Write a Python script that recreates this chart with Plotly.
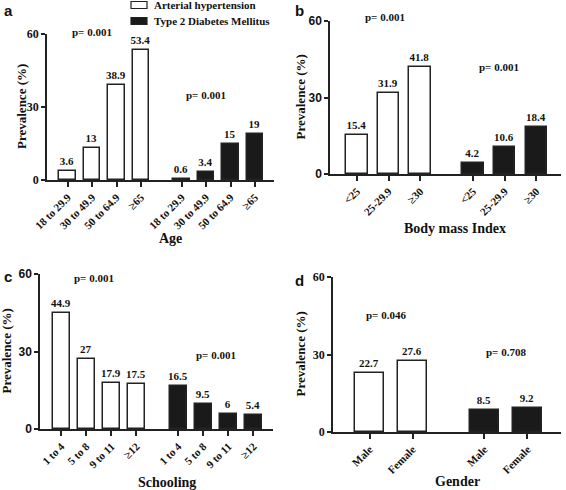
import plotly.graph_objects as go

# ---------------- data ----------------
age_cats = ["18 to 29.9", "30 to 49.9", "50 to 64.9", "≥65"]
age_ah = [3.6, 13, 38.9, 53.4]
age_dm = [0.6, 3.4, 15, 19]
age_p = ["p= 0.001", "p= 0.001"]

bmi_cats = ["<25", "25-29.9", "≥30"]
bmi_ah = [15.4, 31.9, 41.8]
bmi_dm = [4.2, 10.6, 18.4]
bmi_p = ["p= 0.001", "p= 0.001"]

school_cats = ["1 to 4", "5 to 8", "9 to 11", "≥12"]
school_ah = [44.9, 27, 17.9, 17.5]
school_dm = [16.5, 9.5, 6, 5.4]
school_p = ["p= 0.001", "p= 0.001"]

gender_cats = ["Male", "Female"]
gender_ah = [22.7, 27.6]
gender_dm = [8.5, 9.2]
gender_p = ["p= 0.046", "p= 0.708"]

series_names = ["Arterial hypertension", "Type 2 Diabetes Mellitus"]
y_ticks = [0, 30, 60]

W, H = 566, 490
SERIF = "Liberation Serif"
SANS = "Liberation Sans"
DARK = "#222222"

def px(x):
    return x / W

def py(y):
    return 1 - y / H

fig = go.Figure()

panels = [
    dict(cats=age_cats, ah=age_ah, dm=age_dm, p=age_p, xt="Age", letter="a",
         xd=(47, 274), yd=(34, 180), yfont=SERIF, p1=(92, 32), p2=(206, 95),
         lp=(2, 0), ytx=22, xty=238, bw=0.68),
    dict(cats=bmi_cats, ah=bmi_ah, dm=bmi_dm, p=bmi_p, xt="Body mass Index", letter="b",
         xd=(330, 561), yd=(21, 174), yfont=SANS, p1=(385, 17), p2=(499, 67),
         lp=(293, 0), ytx=300, xty=228, bw=0.68),
    dict(cats=school_cats, ah=school_ah, dm=school_dm, p=school_p, xt="Schooling", letter="c",
         xd=(40, 273), yd=(274, 429), yfont=SANS, p1=(94, 278), p2=(216, 355),
         lp=(2, 266), ytx=6, xty=482, bw=0.68),
    dict(cats=gender_cats, ah=gender_ah, dm=gender_dm, p=gender_p, xt="Gender", letter="d",
         xd=(333, 561), yd=(277, 432), yfont=SERIF, p1=(386, 315), p2=(506, 352),
         lp=(293, 270), ytx=300, xty=481, bw=0.66),
]

annotations = []
for i, pn in enumerate(panels, start=1):
    n = len(pn["cats"])
    off = n + 0.67
    xs1 = list(range(n))
    xs2 = [k + off for k in range(n)]
    xa = "x" if i == 1 else f"x{i}"
    ya = "y" if i == 1 else f"y{i}"
    for xs, vals, fill, name in [(xs1, pn["ah"], "white", series_names[0]),
                                 (xs2, pn["dm"], "#1a1a1a", series_names[1])]:
        fig.add_trace(go.Bar(
            x=xs, y=vals, width=pn["bw"], name=name,
            marker=dict(color=fill, line=dict(color=DARK, width=1.5)),
            text=[f"{v:g}" for v in vals], textposition="outside",
            constraintext="none",
            textfont=dict(family=SERIF, size=11, color="#111", weight="bold"),
            cliponaxis=False, showlegend=False, xaxis=xa, yaxis=ya,
            hoverinfo="skip",
        ))
    xkey = "xaxis" if i == 1 else f"xaxis{i}"
    ykey = "yaxis" if i == 1 else f"yaxis{i}"
    fig.layout[xkey] = dict(
        domain=[px(pn["xd"][0]), px(pn["xd"][1])],
        range=[-0.85, xs2[-1] + 0.78], automargin=False,
        anchor=ya, showgrid=False, zeroline=False,
        showline=True, linecolor=DARK, linewidth=1.5,
        ticks="outside", ticklen=5, tickwidth=1.5, tickcolor=DARK,
        tickvals=xs1 + xs2, ticktext=pn["cats"] + pn["cats"],
        tickangle=-45,
        tickfont=dict(family=SERIF, size=11, color="#111", weight="bold"),
    )
    fig.layout[ykey] = dict(
        domain=[py(pn["yd"][1]), py(pn["yd"][0])],
        range=[0, 60], anchor=xa, showgrid=False, zeroline=False, automargin=False,
        showline=True, linecolor=DARK, linewidth=1.5,
        ticks="outside", ticklen=4, tickwidth=1.5, tickcolor=DARK,
        tickvals=y_ticks, ticktext=[str(t) for t in y_ticks],
        tickfont=dict(family=pn["yfont"], size=12, color="#111", weight="bold"),
    )
    for txt, pos in zip(pn["p"], [pn["p1"], pn["p2"]]):
        annotations.append(dict(x=px(pos[0]), y=py(pos[1]), xref="paper", yref="paper",
                                text=txt, showarrow=False, xanchor="center", yanchor="middle",
                                font=dict(family=SERIF, size=11, color="#111", weight="bold")))
    annotations.append(dict(x=px(pn["lp"][0]), y=py(pn["lp"][1]), xref="paper", yref="paper",
                            text=pn["letter"], showarrow=False, xanchor="left", yanchor="top",
                            font=dict(family=SANS, size=15, color="#111", weight="bold")))
    ymid = (pn["yd"][0] + pn["yd"][1]) / 2
    annotations.append(dict(x=px(pn["ytx"]), y=py(ymid), xref="paper", yref="paper",
                            text="Prevalence (%)", textangle=-90, showarrow=False,
                            xanchor="center", yanchor="middle",
                            font=dict(family=SERIF, size=13, color="#111", weight="bold")))
    xmid = (pn["xd"][0] + pn["xd"][1]) / 2 + 10
    annotations.append(dict(x=px(xmid), y=py(pn["xty"]), xref="paper", yref="paper",
                            text=pn["xt"], showarrow=False, xanchor="center", yanchor="middle",
                            font=dict(family=SERIF, size=14, color="#111", weight="bold")))

shapes = []
for k, (name, fill, yc) in enumerate(zip(series_names, ["white", "#1a1a1a"], [5, 21])):
    shapes.append(dict(type="rect", xref="paper", yref="paper",
                       x0=px(131), x1=px(147), y0=py(yc + 3.5), y1=py(yc - 3.5),
                       fillcolor=fill, line=dict(color=DARK, width=1.2)))
    annotations.append(dict(x=px(152), y=py(yc), xref="paper", yref="paper",
                            text=name, showarrow=False, xanchor="left", yanchor="middle",
                            font=dict(family=SERIF, size=11, color="#111", weight="bold")))

fig.update_layout(
    width=W, height=H, margin=dict(l=0, r=0, t=0, b=0, autoexpand=False),
    paper_bgcolor="white", plot_bgcolor="white",
    showlegend=False, bargap=0, hovermode=False,
    annotations=annotations, shapes=shapes,
)

fig.write_html("out.html", config={"displayModeBar": False},
               post_script="document.body.style.margin='0';document.body.style.overflow='hidden';")
